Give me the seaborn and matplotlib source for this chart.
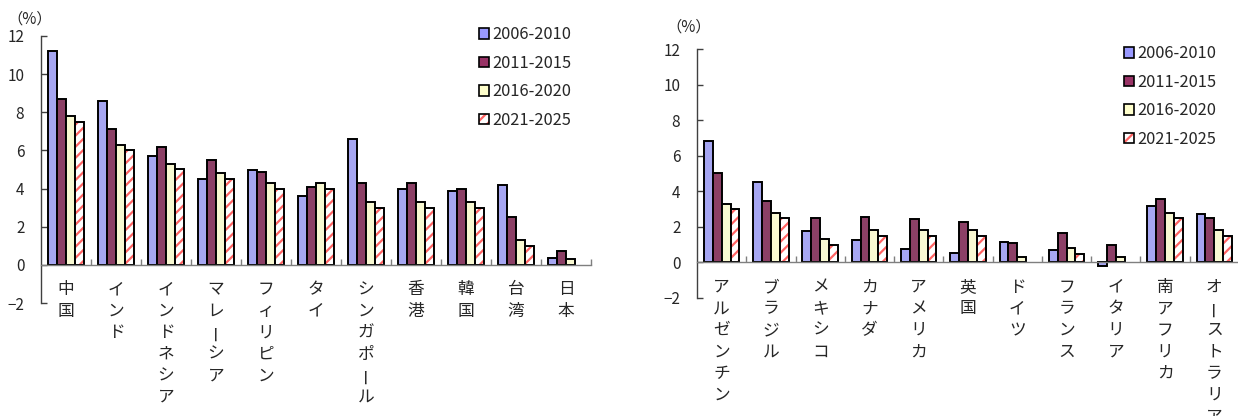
import numpy as np
import pandas as pd
import matplotlib
matplotlib.use("Agg")
import matplotlib.pyplot as plt
from matplotlib.patches import Patch, Rectangle
from matplotlib.legend_handler import HandlerTuple
import seaborn as sns

# ---- data -------------------------------------------------------------
periods = ["2006-2010", "2011-2015", "2016-2020", "2021-2025"]

asia_countries = ["中国", "インド", "インドネシア", "マレーシア", "フィリピン", "タイ",
                  "シンガポール", "香港", "韓国", "台湾", "日本"]
asia_2006_2010 = [11.2, 8.6, 5.7, 4.5, 4.95, 3.6, 6.6, 4.0, 3.85, 4.2, 0.35]
asia_2011_2015 = [8.7, 7.1, 6.2, 5.5, 4.85, 4.1, 4.3, 4.3, 4.0, 2.5, 0.75]
asia_2016_2020 = [7.8, 6.3, 5.3, 4.8, 4.3, 4.3, 3.3, 3.3, 3.3, 1.3, 0.3]
asia_2021_2025 = [7.5, 6.0, 5.0, 4.5, 4.0, 4.0, 3.0, 3.0, 3.0, 1.0, np.nan]

other_countries = ["アルゼンチン", "ブラジル", "メキシコ", "カナダ", "アメリカ", "英国",
                   "ドイツ", "フランス", "イタリア", "南アフリカ", "オーストラリア"]
other_2006_2010 = [6.8, 4.5, 1.75, 1.25, 0.75, 0.55, 1.15, 0.7, -0.2, 3.2, 2.75]
other_2011_2015 = [5.05, 3.45, 2.5, 2.55, 2.45, 2.25, 1.1, 1.65, 1.0, 3.55, 2.5]
other_2016_2020 = [3.3, 2.8, 1.3, 1.8, 1.8, 1.8, 0.3, 0.8, 0.3, 2.8, 1.8]
other_2021_2025 = [3.0, 2.5, 1.0, 1.5, 1.5, 1.5, np.nan, 0.5, np.nan, 2.5, 1.5]

y_ticks = [-2, 0, 2, 4, 6, 8, 10, 12]

# ---- style ------------------------------------------------------------
sns.set_style("white")
plt.rcParams["font.family"] = ["Noto Sans CJK JP", "DejaVu Sans"]
plt.rcParams["hatch.linewidth"] = 1.6

fill_colors = ["#9999FF", "#993366", "#FFFFCC", "#FFFFFF"]
hatch_color = "#FF6464"
edge_lw = 1.4


def long_table(countries, series):
    rows = []
    for period, values in zip(periods, series):
        for c, v in zip(countries, values):
            rows.append({"country": c, "period": period, "value": v})
    return pd.DataFrame(rows)


def draw_panel(ax, countries, series):
    df = long_table(countries, series)
    sns.barplot(data=df, x="country", y="value", hue="period",
                order=countries, hue_order=periods,
                palette=fill_colors, edgecolor="black", linewidth=edge_lw,
                width=0.72, errorbar=None, legend=False, ax=ax)

    # striped last period: red stripes, black outline drawn on top
    for bar in ax.containers[3]:
        h = bar.get_height()
        if h is None or np.isnan(h):
            continue
        bar.set_hatch("///")
        bar.set_edgecolor(hatch_color)
        bar.set_linewidth(0)
        ax.add_patch(Rectangle(bar.get_xy(), bar.get_width(), h, fill=False,
                               edgecolor="black", linewidth=edge_lw, zorder=bar.get_zorder() + 0.1))

    n = len(countries)
    ax.set_xlim(-0.5, n - 0.5)
    ax.set_ylim(-2, 12)
    ax.set_yticks(y_ticks)
    ax.set_yticklabels([f"{t}".replace("-", "−") for t in y_ticks])
    ax.set_xlabel("")
    ax.set_ylabel("")

    # x axis along zero, small ticks between groups
    ax.spines["top"].set_visible(False)
    ax.spines["right"].set_visible(False)
    ax.spines["bottom"].set_position(("data", 0))
    ax.spines["bottom"].set_color("#7F7F7F")
    ax.spines["bottom"].set_linewidth(1.0)
    ax.spines["left"].set_color("#404040")
    ax.spines["left"].set_linewidth(1.0)
    ax.set_xticks(np.arange(n) + 0.5)
    ax.set_xticklabels([])
    ax.tick_params(axis="x", direction="in", length=4, width=1, color="#7F7F7F", bottom=True)
    ax.tick_params(axis="y", direction="in", length=4, width=1, color="#404040",
                   left=True, labelsize=11, pad=12)

    # vertical (tategaki) category labels, one character per line
    for i, name in enumerate(countries):
        for k, ch in enumerate(name):
            ax.annotate(ch, xy=(i, 0), xycoords="data",
                        xytext=(0, -(18 + k * 15.5)), textcoords="offset points",
                        ha="center", va="center", fontsize=12,
                        rotation=(90 if ch == "ー" else 0),
                        annotation_clip=False)


def add_legend(ax, anchor):
    handles = [Patch(facecolor=c, edgecolor="black", linewidth=1.2) for c in fill_colors[:3]]
    handles.append((Patch(facecolor="white", edgecolor=hatch_color, hatch="///", linewidth=0),
                    Patch(facecolor="none", edgecolor="black", linewidth=1.2)))
    ax.legend(handles, periods, loc="upper left", bbox_to_anchor=anchor,
              bbox_transform=ax.figure.transFigure, frameon=False,
              handlelength=0.6, handleheight=0.6, handletextpad=0.2,
              labelspacing=0.7, borderpad=0, fontsize=11.8,
              handler_map={tuple: HandlerTuple(ndivide=1)})


W, H = 1238, 416
fig = plt.figure(figsize=(W / 100, H / 100), dpi=100)

ax1 = fig.add_axes([41 / W, 1 - 303 / H, 550 / W, (303 - 36) / H])
ax2 = fig.add_axes([697 / W, 1 - 298 / H, 542 / W, (298 - 49) / H])

draw_panel(ax1, asia_countries, [asia_2006_2010, asia_2011_2015, asia_2016_2020, asia_2021_2025])
draw_panel(ax2, other_countries, [other_2006_2010, other_2011_2015, other_2016_2020, other_2021_2025])

add_legend(ax1, (471 / W, 1 - 18 / H))
add_legend(ax2, (1116 / W, 1 - 37 / H))

fig.text(30 / W, 1 - 19 / H, "（%）", ha="center", va="center", fontsize=11)
fig.text(689 / W, 1 - 27 / H, "（%）", ha="center", va="center", fontsize=11)

fig.savefig("out.png", dpi=100)
